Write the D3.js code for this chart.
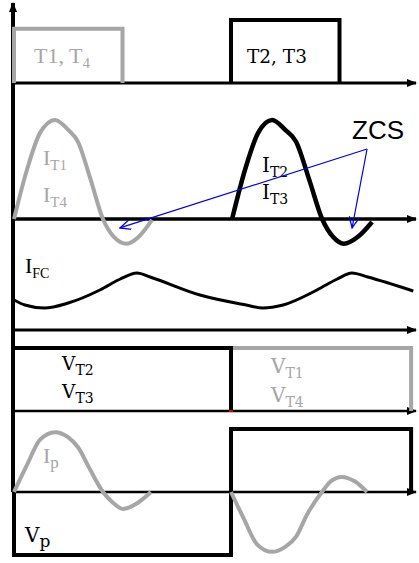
<!DOCTYPE html>
<html><head><meta charset="utf-8">
<script src="https://cdn.jsdelivr.net/npm/d3@7"></script>
<style>html,body{margin:0;padding:0;background:#fff}</style>
</head><body>
<script>
// ---------- data (time t: 0 = start, 1 = half period) ----------
const gateT14 = [[0,0],[0,0.86],[0.5,0.86],[0.5,0]];
const gateT23 = [[1,0],[1,1],[1.5,1],[1.5,0]];
const iT14 = [[0,0],[0.06,0.5],[0.12,0.87],[0.189,1.0],[0.25,0.9],[0.295,0.78],[0.35,0.42],[0.41,0],[0.46,-0.18],[0.52,-0.25],[0.575,-0.18],[0.636,-0.01]];
const iT23 = [[1.005,0],[1.065,0.5],[1.125,0.87],[1.19,1.0],[1.25,0.9],[1.30,0.78],[1.36,0.4],[1.42,0],[1.47,-0.18],[1.52,-0.25],[1.585,-0.18],[1.65,-0.03]];
const iFC = [[0,0.30],[0.05,0.25],[0.14,0.22],[0.25,0.27],[0.396,0.40],[0.49,0.51],[0.567,0.57],[0.627,0.53],[0.857,0.35],[1.07,0.25],[1.147,0.22],[1.24,0.25],[1.396,0.40],[1.49,0.51],[1.557,0.57],[1.63,0.53],[1.84,0.39]];
const vT23 = [[0,1],[1,1],[1,0]];
const vT14 = [[1,0],[1,1],[1.83,1],[1.83,0]];
const vP = [[0,0],[0,-1],[1,-1],[1,1],[1.83,1],[1.83,0]];
const iP1 = [[0,0],[0.06,0.43],[0.12,0.83],[0.189,0.95],[0.249,0.87],[0.295,0.71],[0.35,0.36],[0.41,0],[0.456,-0.17],[0.502,-0.27],[0.571,-0.17],[0.631,0]];
const iP2 = [[1.0,0],[1.06,-0.43],[1.12,-0.83],[1.189,-0.95],[1.25,-0.87],[1.30,-0.71],[1.35,-0.36],[1.419,0],[1.46,0.17],[1.51,0.24],[1.57,0.17],[1.627,0]];
const zcsFrom = [1.627, 0.707];
const zcsTargets = [[0.488,-0.09],[1.558,-0.09]];

const W = 419, H = 563;
const GRAY = "#a6a6a6";
const TIMES = "'Liberation Serif','Times New Roman',serif";
const CENTURY = "'DejaVu Serif',serif";
const svg = d3.select("body").append("svg").attr("width",W).attr("height",H);
const defs = svg.append("defs");
defs.append("marker").attr("id","ah").attr("markerUnits","userSpaceOnUse")
  .attr("viewBox","0 0 10 8").attr("refX",9).attr("refY",4)
  .attr("markerWidth",10).attr("markerHeight",8).attr("orient","auto")
  .append("path").attr("d","M0,0L10,4L0,8Z").attr("fill","#000");
defs.append("marker").attr("id","bh").attr("markerUnits","userSpaceOnUse")
  .attr("viewBox","0 0 12 10").attr("refX",11).attr("refY",5)
  .attr("markerWidth",12).attr("markerHeight",10).attr("orient","auto")
  .append("path").attr("d","M0,0L11,5L0,10").attr("fill","none").attr("stroke","#0000ee").attr("stroke-width",1.3);

const x = d3.scaleLinear().domain([0,1]).range([14,231]);
const yGate = d3.scaleLinear().domain([0,1]).range([83,20]);
const yIT = d3.scaleLinear().domain([0,1]).range([219,120]);
const yFC = d3.scaleLinear().domain([0,1]).range([330,230]);
const yVT = d3.scaleLinear().domain([0,1]).range([411,348]);
const yVP = d3.scaleLinear().domain([-1,1]).range([555,429]);

const tEnd = x.invert(416);
function hAxis(y, w){
  svg.append("line").attr("x1",x(0)-1.5).attr("x2",x(tEnd)).attr("y1",y).attr("y2",y)
    .attr("stroke","#000").attr("stroke-width",w).attr("marker-end","url(#ah)");
}
function path(data, ys, color, w, curve){
  svg.append("path").datum(data)
    .attr("d", d3.line().x(d=>x(d[0])).y(d=>ys(d[1])).curve(curve||d3.curveLinear))
    .attr("fill","none").attr("stroke",color).attr("stroke-width",w)
    .attr("stroke-linejoin","miter").attr("stroke-linecap","butt");
}
function label(px, py, main, sub, color, size, subSize, font, dy){
  const t = svg.append("text").attr("x",px).attr("y",py).attr("fill",color)
    .attr("font-family", font || TIMES).attr("font-size",size);
  t.append("tspan").text(main);
  if (sub) t.append("tspan").attr("dy",dy||5).attr("font-size",subSize).text(sub);
}

// vertical axis
svg.append("line").attr("x1",13).attr("x2",13).attr("y1",yVP(0)).attr("y2",3)
  .attr("stroke","#000").attr("stroke-width",4).attr("marker-end","url(#ah)");

// horizontal axes
hAxis(yGate(0), 3);
hAxis(yIT(0), 3.5);
hAxis(yFC(0), 3);
hAxis(yVT(0), 2.5);
hAxis(yVP(0), 2.5);

// gate pulses
path(gateT14, yGate, GRAY, 4);
path(gateT23, yGate, "#000", 4);
label(34, 63, "T1, T", "4", GRAY, 22, 15);
label(247, 63, "T2, T3", null, "#000", 18.5, null, CENTURY);

// switch currents
path(iT14, yIT, GRAY, 4, d3.curveMonotoneX);
path(iT23, yIT, "#000", 4.5, d3.curveMonotoneX);
label(43, 165, "I", "T1", GRAY, 22, 15);
label(43, 202, "I", "T4", GRAY, 22, 15);
label(262, 172, "I", "T2", "#000", 20, 14, CENTURY);
label(262, 199, "I", "T3", "#000", 20, 14, CENTURY);
svg.append("text").attr("x",352).attr("y",139).attr("font-family","'Liberation Sans',Arial,sans-serif")
  .attr("font-size",26).attr("fill","#000").text("ZCS");
zcsTargets.forEach(tg=>{
  svg.append("line").attr("x1",x(zcsFrom[0])).attr("y1",yIT(zcsFrom[1]))
    .attr("x2",x(tg[0])).attr("y2",yIT(tg[1]))
    .attr("stroke","#0000ee").attr("stroke-width",1.2).attr("marker-end","url(#bh)");
});

// fuel-cell current
path(iFC, yFC, "#000", 3, d3.curveMonotoneX);
label(25, 273, "I", "FC", "#000", 22, 14);

// switch voltages
path(vT14, yVT, GRAY, 4);
path(vT23, yVT, "#000", 4);
svg.append("rect").attr("x",x(1)-2).attr("y",yVT(0)-1).attr("width",4).attr("height",2).attr("fill","#d00000");
label(62, 370, "V", "T2", "#000", 18.5, 14, CENTURY);
label(62, 398, "V", "T3", "#000", 18.5, 14, CENTURY);
label(271, 373, "V", "T1", GRAY, 20, 14, CENTURY);
label(271, 402, "V", "T4", GRAY, 20, 14, CENTURY);

// primary voltage & current
path(vP, yVP, "#000", 4);
path(iP1, yVP, GRAY, 4, d3.curveMonotoneX);
path(iP2, yVP, GRAY, 4, d3.curveMonotoneX);
label(43, 463, "I", "p", GRAY, 22, 17);
label(25, 542, "V", "p", "#000", 20, 17, CENTURY);
</script>
</body></html>
